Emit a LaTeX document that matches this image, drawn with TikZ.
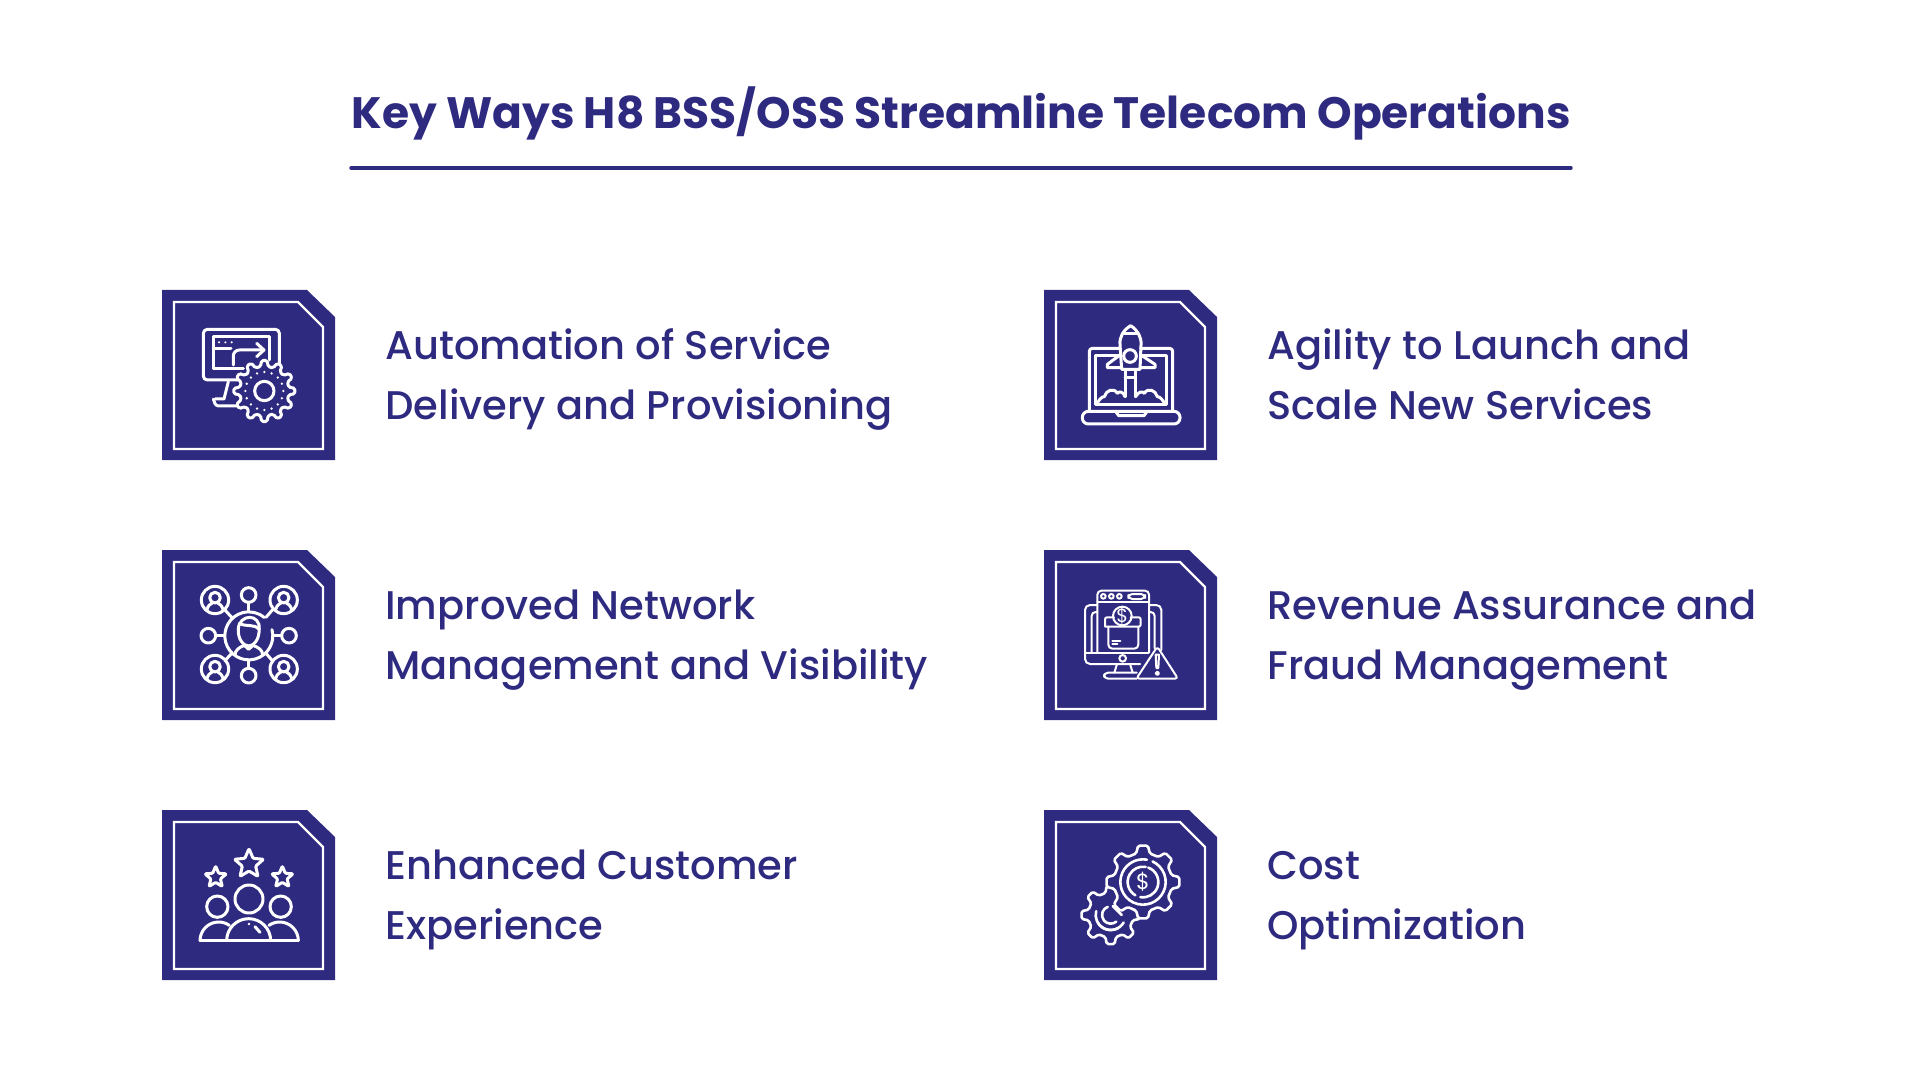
\documentclass[tikz,border=0pt]{standalone}
\usepackage{fontspec}
\setmainfont{Poppins}
\newfontfamily\medfont{Poppins Medium}
\definecolor{tileblue}{HTML}{2E2A80}
\tikzset{
  tile/.style={fill=tileblue,draw=none},
  tileline/.style={draw=white,line width=1.1pt},
  iconline/.style={draw=white,line width=1.5pt,line cap=round,line join=round},
  midline/.style={draw=white,line width=1.3pt,line cap=round,line join=round},
  thinline/.style={draw=white,line width=1pt,line cap=round,line join=round},
  labeltext/.style={text=tileblue,font=\medfont\fontsize{20}{30}\selectfont,align=left,anchor=west,inner sep=0pt},
}
\newcommand\staricon[4]{
  \draw[iconline,rounded corners=.5pt,shift={(#1,#2)}] (-126:#4)
    \foreach \i in {0,...,3} {-- ({-90+72*\i}:#3) -- ({-54+72*\i}:#4)} -- (198:#3) -- cycle;
}
\newcommand\gearicon[6]{
  \pgfmathsetmacro\gearstep{360/#5}
  \draw[#6,fill=tileblue,rounded corners=.8pt,shift={(#1,#2)}] ({-.3*\gearstep}:#3) -- ({-.17*\gearstep}:#4) -- ({.17*\gearstep}:#4) -- ({.3*\gearstep}:#3)
    \foreach \i in {1,...,\numexpr#5-1\relax} {-- ({(\i-.3)*\gearstep}:#3) -- ({(\i-.17)*\gearstep}:#4) -- ({(\i+.17)*\gearstep}:#4) -- ({(\i+.3)*\gearstep}:#3)} -- cycle;
}
\begin{document}
\begin{tikzpicture}[x=.5pt,y=-.5pt]
  \useasboundingbox (0,0) rectangle (1920,1080);

  \node[text=tileblue,font=\bfseries\fontsize{21.98}{27}\selectfont,anchor=base,inner sep=0pt] (title) at (961,129) {Key Ways H8 BSS/OSS Streamline Telecom Operations};
  \draw[tileblue,line width=1.7pt,line cap=round] (title.west |- 0,168) -- (title.east |- 0,168);

  \foreach \tx/\ty/\nm/\lineone/\linetwo in {
      162/290/auto/Automation of Service/Delivery and Provisioning,
      162/550/netw/Improved Network/Management and Visibility,
      162/810/cust/Enhanced Customer/Experience,
      1044/290/agil/Agility to Launch and/Scale New Services,
      1044/550/reve/Revenue Assurance and/Fraud Management,
      1044/810/cost/Cost/Optimization} {
    \begin{scope}[shift={(\tx,\ty)}]
      \fill[tile] (0,0) -- (145,0) -- (173,27) -- (173,170) -- (0,170) -- cycle;
      \draw[tileline] (12,12) -- (136,12) -- (161,37) -- (161,159) -- (12,159) -- cycle;
      \node[labeltext] (\nm) at (223,87.5) {\lineone\strut\\\linetwo\strut};
    \end{scope}
  }

  % monitor and gear
  \begin{scope}[shift={(150,280)},scale=1/3]
    \draw[iconline,rounded corners=2pt] (265,300) -- (160,300) -- (160,148) -- (388,148) -- (388,255);
    \draw[iconline] (190,265) -- (190,170) -- (358,170) -- (358,240);
    \draw[iconline] (190,265) -- (280,265) (190,205) -- (243,205);
    \foreach \px in {207,226,245} \fill[white] (\px,187) circle (3.5);
    \draw[iconline,rounded corners=3pt] (250,255) -- (250,210) -- (340,210);
    \draw[iconline] (320,190) -- (342,210) -- (320,230);
    \draw[iconline] (235,305) -- (222,357) -- (195,357);
    \draw[iconline,rounded corners=1.5pt] (190,357) -- (197,378) -- (265,378);
    \gearicon{343}{333}{74}{92}{12}{iconline}
    \draw[iconline] (343,333) circle (29);
    \foreach \ang in {0,22.5,...,337.5} \fill[white] ([shift={(343,333)}]\ang:57) circle (4);
  \end{scope}

  % rocket and laptop
  \begin{scope}[shift={(1040,280)},scale=1/3]
    \draw[iconline,rounded corners=1.5pt] (148,392) -- (148,205) -- (240,205) (302,205) -- (398,205) -- (398,392);
    \draw[iconline] (240,228) -- (165,228) -- (165,374) -- (380,374) -- (380,228) -- (302,228);
    \draw[iconline,rounded corners=3pt] (127,394) rectangle (420,432);
    \draw[iconline] (228,396) -- (236,407) -- (312,407) -- (320,396);
    \draw[iconline] (272,137) .. controls (250,150) and (238,170) .. (240,195) -- (245,268) -- (300,268) -- (303,195) .. controls (305,170) and (292,150) .. (272,137);
    \draw[iconline] (252,160) -- (292,160);
    \draw[iconline] (270,228) circle (19);
    \draw[iconline] (240,225) -- (202,253) -- (202,263) -- (245,263);
    \draw[iconline] (303,225) -- (345,253) -- (345,263) -- (300,263);
    \draw[iconline] (255,268) -- (255,350) (287,268) -- (287,350) (255,292) -- (287,292);
    \draw[iconline] (170,372) .. controls (178,358) and (185,350) .. (193,350) .. controls (198,330) and (222,322) .. (232,340) .. controls (238,332) and (250,335) .. (255,350);
    \draw[iconline] (375,372) .. controls (367,358) and (360,350) .. (352,350) .. controls (347,330) and (323,322) .. (313,340) .. controls (307,332) and (295,335) .. (287,350);
  \end{scope}

  % network of people
  \begin{scope}[shift={(150,540)},scale=1/3]
    \draw[iconline] (296+70,287-18) arc (-15:310:72);
    \draw[iconline] (296,187) -- (296,213) (197,287) -- (224,287) (373,287) -- (395,287) (296,360) -- (296,385);
    \draw[iconline] (225,210) -- (245,232) (367,210) -- (348,232) (225,362) -- (245,340) (367,362) -- (348,340);
    \draw[iconline] (296,165) circle (22) (296,407) circle (22) (175,287) circle (22) (417,287) circle (22);
    \foreach \qx/\qy in {195/180,401/180,195/387,401/387} {
      \draw[iconline] (\qx,\qy) circle (41);
      \draw[iconline] (\qx,\qy-7) circle (16);
      \draw[iconline] (\qx-24,\qy+28) .. controls (\qx-20,\qy+14) and (\qx-12,\qy+12) .. (\qx-8,\qy+9);
      \draw[iconline] (\qx+24,\qy+28) .. controls (\qx+20,\qy+14) and (\qx+12,\qy+12) .. (\qx+8,\qy+9);
    }
    \begin{scope}[shift={(3,0)}]
      \draw[iconline] (262,265) .. controls (259,300) and (280,318) .. (293,318) .. controls (306,318) and (327,300) .. (324,265);
      \draw[iconline] (262,268) .. controls (262,245) and (280,232) .. (296,232) .. controls (312,232) and (328,245) .. (324,268) .. controls (310,250) and (285,262) .. (265,250);
      \draw[iconline] (252,345) .. controls (252,330) and (265,322) .. (280,316) -- (293,328) -- (306,316) .. controls (322,322) and (335,330) .. (335,345);
    \end{scope}
  \end{scope}

  % browser, parcel and warning
  \begin{scope}[shift={(1040,540)},scale=1/3]
    \draw[thinline,rounded corners=2pt] (172,338) -- (172,152) -- (327,152) -- (327,338);
    \draw[thinline] (172,185) -- (327,185);
    \foreach \px in {190,214,238} \draw[thinline] (\px,169) circle (7);
    \draw[thinline,rounded corners=2pt] (265,162) rectangle (315,177);
    \draw[thinline,rounded corners=2.5pt] (172,195) -- (135,195) -- (135,372) -- (300,372);
    \draw[thinline,rounded corners=2.5pt] (327,195) -- (364,195) -- (364,330);
    \draw[thinline,rounded corners=2pt] (155,338) -- (155,216) -- (172,216);
    \draw[thinline,rounded corners=2pt] (327,216) -- (344,216) -- (344,325);
    \draw[thinline] (135,339) -- (325,339);
    \draw[thinline] (248,355) circle (10);
    \draw[thinline] (231,372) -- (223,398) (270,372) -- (278,398);
    \draw[thinline,rounded corners=2pt] (290,398) -- (192,398) -- (192,416) -- (290,416);
    \draw[thinline,rounded corners=1pt] (195,260) -- (195,232) -- (222,232) (272,232) -- (302,232) -- (302,260) -- (195,260);
    \draw[thinline] (247,228) circle (28);
    \node[text=white,font=\fontsize{9.5}{9.5}\selectfont,inner sep=0pt] (coin) at (247,228) {\$};
    \draw[thinline,rounded corners=2pt] (205,260) -- (205,326) -- (295,326) -- (295,260);
    \draw[thinline] (217,302) -- (241,302) (217,313) -- (232,313);
    \draw[thinline,fill=tileblue,rounded corners=1.5pt] (352,320) -- (414,416) -- (289,416) -- cycle;
    \draw[thinline] (347,344) -- (357,344) -- (355,384) -- (349,384) -- cycle;
    \draw[thinline] (352,400) circle (5);
  \end{scope}

  % customers and stars
  \begin{scope}[shift={(150,800)},scale=1/3]
    \staricon{297}{192}{46}{21}
    \staricon{197}{232}{34}{15}
    \staricon{397}{232}{34}{15}
    \draw[iconline] (297,297) circle (42) (202,320) circle (32) (392,320) circle (32);
    \draw[iconline] (150,422) -- (445,422);
    \draw[iconline] (230,422) arc (180:360:66);
    \draw[iconline] (150,422) arc (180:305:56);
    \draw[iconline] (445,422) arc (0:-125:56);
    \fill[white] (297,372) circle (4);
    \draw[iconline] (315,380) -- (330,397);
  \end{scope}

  % gears and dollar
  \begin{scope}[shift={(1040,800)},scale=1/3]
    \gearicon{212}{345}{68}{88}{8}{midline}
    \draw[midline] (212,345) ++(150:45) arc (150:60:45);
    \draw[midline] (212,345) ++(30:45) arc (30:195:45);
    \draw[midline] (212,345) ++(50:26) arc (50:250:26);
    \draw[midline] (218,318) -- (245,345);
    \gearicon{309}{246}{88}{110}{8}{midline}
    \draw[midline] (309,246) ++(-65:68) arc (-65:280:68);
    \draw[midline] (309,246) ++(-70:46) arc (-70:100:46);
    \draw[midline] (309,246) ++(120:46) arc (120:280:46);
    \node[text=white,font=\fontsize{11}{11}\selectfont,inner sep=0pt] (dollar) at (309,244) {\$};
  \end{scope}
\end{tikzpicture}
\end{document}
